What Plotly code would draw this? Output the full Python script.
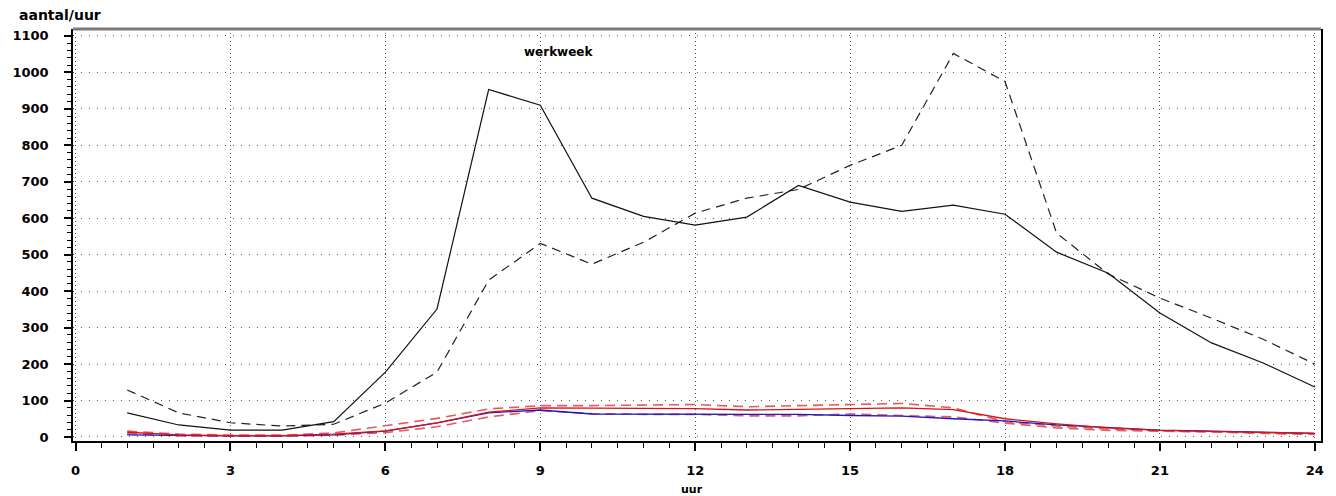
import plotly.graph_objects as go

# Uurlijkse intensiteiten (aantal/uur), gemiddelde werkdag
uren = list(range(1, 25))

zwart_doorgetrokken = [66, 33, 19, 19, 42, 178, 351, 953, 910, 655, 605, 581,
                       603, 690, 644, 619, 636, 611, 507, 449, 340, 258, 203, 137]
zwart_gestippeld = [129, 66, 39, 30, 35, 93, 178, 430, 531, 474, 534, 614,
                    655, 679, 745, 800, 1052, 975, 559, 447, 381, 326, 268, 200]
rood_doorgetrokken = [13, 6, 4, 4, 8, 17, 39, 68, 80, 80, 79, 78,
                      74, 76, 80, 80, 75, 50, 36, 25, 18, 15, 12, 10]
rood_gestippeld = [16, 8, 5, 5, 11, 31, 51, 77, 86, 86, 88, 89,
                   83, 86, 90, 92, 80, 42, 30, 22, 17, 14, 12, 9]
rood_gestippeld_laag = [9, 3, 2, 2, 5, 12, 28, 55, 72, 64, 62, 62,
                        58, 58, 63, 60, 55, 38, 25, 18, 17, 14, 10, 7]
blauw_doorgetrokken = [6, 4, 3, 3, 6, 16, 39, 66, 74, 63, 63, 63,
                       62, 62, 59, 57, 50, 44, 33, 26, 19, 16, 12, 10]

x_ticks = [0, 3, 6, 9, 12, 15, 18, 21, 24]
y_ticks = list(range(0, 1101, 100))

font_fam = "DejaVu Sans"

fig = go.Figure()

def lijn(y, kleur, dash, breedte=1.2):
    fig.add_trace(go.Scatter(
        x=uren, y=y, mode="lines",
        line=dict(color=kleur, width=breedte, dash=dash),
        showlegend=False, hoverinfo="x+y",
    ))

lijn(rood_gestippeld_laag, "#e25a5a", "10px,6px", 1.6)
lijn(rood_gestippeld, "#e25a5a", "10px,6px", 1.6)
lijn(blauw_doorgetrokken, "#1a1ac8", "solid", 1.3)
lijn(rood_doorgetrokken, "#dd1111", "solid", 1.3)
lijn(zwart_gestippeld, "#222222", "9px,6px", 1.2)
lijn(zwart_doorgetrokken, "#111111", "solid", 1.2)

fig.update_layout(
    width=1336, height=496,
    margin=dict(l=65, r=12, t=29, b=55),
    paper_bgcolor="white", plot_bgcolor="white",
    font=dict(family=font_fam, size=12, color="black"),
)

fig.update_xaxes(
    range=[-0.05, 24.12],
    tickvals=x_ticks, ticktext=[str(v) for v in x_ticks],
    ticks="outside", ticklen=8, tickwidth=1.5, tickcolor="black",
    minor=dict(dtick=0.5, tick0=0, ticks="outside", ticklen=5,
               tickcolor="black", tickwidth=1, showgrid=False),
    showline=True, linecolor="black", linewidth=1.5,
    showgrid=True, gridcolor="#555555", gridwidth=1, griddash="1px,3px",
    zeroline=False,
    tickfont=dict(family=font_fam, size=13, weight="bold"),
    ticklabelstandoff=9,
)

fig.update_yaxes(
    range=[-11, 1119],
    tickvals=y_ticks, ticktext=[str(v) for v in y_ticks],
    ticks="outside", ticklen=7, tickwidth=1.5, tickcolor="black",
    minor=dict(dtick=20, tick0=0, ticks="outside", ticklen=4,
               tickcolor="black", tickwidth=1, showgrid=False),
    showline=True, linecolor="black", linewidth=1.5, mirror=True,
    showgrid=True, gridcolor="#555555", gridwidth=1, griddash="1px,7px",
    zeroline=False,
    tickfont=dict(family=font_fam, size=13, weight="bold"),
    ticklabelstandoff=13,
)

# bovenrand van het grafiekvlak
fig.add_shape(type="line", xref="paper", yref="paper", x0=0, x1=1, y0=1, y1=1,
              line=dict(color="#7a7a7a", width=3))

fig.add_annotation(text="werkweek", x=9.36, y=1055, xref="x", yref="y",
                   showarrow=False, font=dict(family=font_fam, size=12, weight="bold"))
fig.add_annotation(text="aantal/uur", xref="paper", yref="paper",
                   x=-0.0445, y=1.034, xanchor="left", yanchor="middle",
                   showarrow=False, font=dict(family=font_fam, size=14, weight="bold"))
fig.add_annotation(text="uur", xref="paper", yref="paper",
                   x=0.496, y=-0.117, xanchor="center", yanchor="middle",
                   showarrow=False, font=dict(family=font_fam, size=11, weight="bold"))

fig.write_html("out.html")
